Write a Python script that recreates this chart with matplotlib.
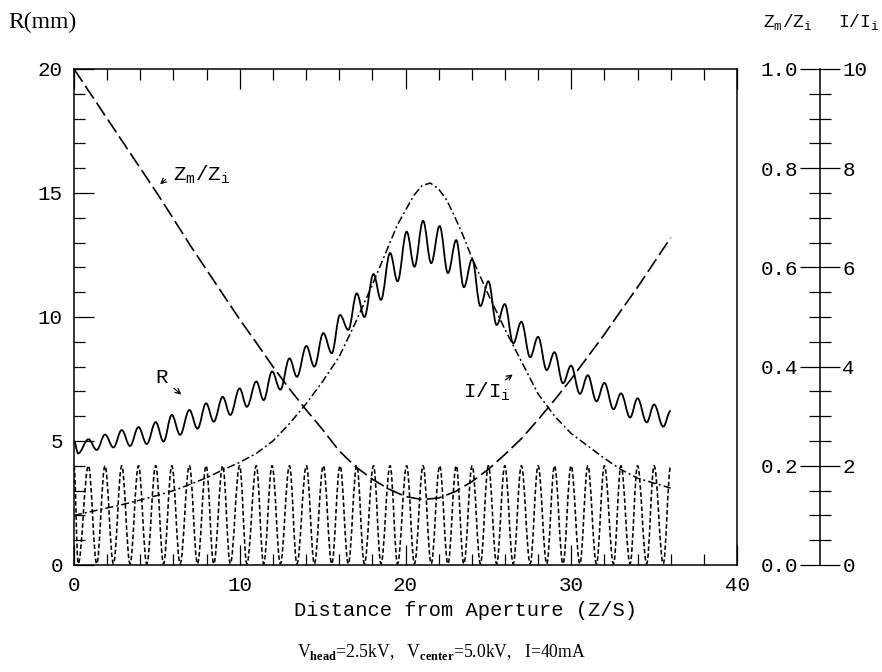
import numpy as np
import matplotlib.pyplot as plt
from matplotlib.path import Path
from matplotlib.patches import PathPatch

plt.rcParams['font.family'] = ['Liberation Mono', 'DejaVu Sans Mono']
plt.rcParams['mathtext.fontset'] = 'custom'
plt.rcParams['mathtext.rm'] = 'Liberation Mono'
plt.rcParams['mathtext.bf'] = 'Liberation Serif:bold'
plt.rcParams['lines.scale_dashes'] = False

# --- data ---
# Zm/Zi (dashed, right scale 0..1)
zm_z = [0, 1, 2, 3, 4, 5, 6, 7, 8, 9, 10, 11, 12, 13, 14, 15, 16, 17, 18,
        19, 20, 21, 22, 23, 24, 25, 26, 27, 28, 29, 30, 31, 32, 33, 34, 35, 36]
zm_ratio = [1.0, 0.95, 0.9, 0.85, 0.8, 0.75, 0.698, 0.645, 0.595, 0.545, 0.495,
            0.448, 0.4, 0.355, 0.313, 0.273, 0.23, 0.198, 0.173, 0.153, 0.138,
            0.132, 0.135, 0.148, 0.168, 0.193, 0.223, 0.255, 0.293, 0.333,
            0.375, 0.42, 0.465, 0.513, 0.56, 0.61, 0.66]

# I/Ii (dash-dot, right scale 0..10)
ii_z = [0, 1, 2, 3, 4, 5, 6, 7, 8, 9, 10, 11, 12, 13, 14, 15, 16, 17, 18, 19,
        19.5, 20, 20.5, 21, 21.5, 22, 22.5, 23, 23.5, 24, 25, 26, 27, 28, 29,
        30, 31, 32, 33, 34, 35, 36]
ii_ratio = [1.0, 1.075, 1.15, 1.225, 1.31, 1.4, 1.5, 1.625, 1.76, 1.92, 2.07,
            2.25, 2.5, 2.85, 3.25, 3.7, 4.2, 4.9, 5.65, 6.45, 6.85, 7.15, 7.45,
            7.65, 7.7, 7.58, 7.35, 7.0, 6.62, 6.2, 5.45, 4.75, 4.1, 3.45, 3.0,
            2.65, 2.4, 2.15, 1.925, 1.75, 1.65, 1.55]

# oscillating curves: positions of maxima and minima
z_peak = [0.0, 0.87, 1.87, 2.88, 3.89, 4.93, 5.9, 6.96, 7.97, 8.97, 9.99, 11.0,
          11.95, 13.0, 14.02, 15.04, 16.05, 17.06, 18.07, 19.07, 20.07, 21.06,
          22.06, 23.06, 24.02, 25.0, 25.99, 26.99, 28.0, 28.99, 29.99, 31.0,
          32.0, 33.0, 34.0, 35.0, 36.0]
z_trough = [0.25, 1.37, 2.38, 3.38, 4.39, 5.4, 6.4, 7.45, 8.43, 9.43, 10.43,
            11.44, 12.45, 13.45, 14.5, 15.55, 16.55, 17.52, 18.52, 19.52, 20.54,
            21.55, 22.56, 23.52, 24.52, 25.5, 26.5, 27.52, 28.52, 29.5, 30.52,
            31.52, 32.55, 33.55, 34.55, 35.55]

# R (solid)
r_peak = [5.0, 5.07, 5.26, 5.44, 5.56, 5.76, 6.05, 6.25, 6.52, 6.78, 7.12, 7.4,
          7.8, 8.33, 8.83, 9.35, 10.08, 10.95, 11.73, 12.58, 13.44, 13.88,
          13.67, 13.1, 12.33, 11.44, 10.52, 9.81, 9.2, 8.58, 8.04, 7.65, 7.34,
          6.92, 6.72, 6.47, 6.22]
r_trough = [4.5, 4.64, 4.74, 4.8, 4.88, 4.98, 5.25, 5.5, 5.78, 6.05, 6.38, 6.65,
            7.07, 7.59, 8.0, 8.54, 9.48, 10.0, 10.69, 11.44, 12.03, 12.17, 11.77,
            11.2, 10.44, 9.68, 8.94, 8.38, 7.86, 7.33, 6.9, 6.6, 6.28, 5.95, 5.75,
            5.58]

# short dashed oscillation at the bottom
d_peak = [4.0, 4.0, 4.0, 4.0, 4.0, 4.0, 4.0, 4.0, 4.0, 4.0, 4.0, 4.0, 4.0,
          4.0, 4.0, 4.0, 4.0, 4.0, 4.0, 4.0, 4.0, 4.0, 4.0, 4.0, 4.0, 4.0,
          4.0, 4.0, 4.0, 4.0, 4.0, 4.0, 4.0, 4.0, 4.0, 4.0, 4.0]
d_trough = [0.05, 0.05, 0.05, 0.05, 0.05, 0.05, 0.05, 0.05, 0.05, 0.05, 0.05,
            0.05, 0.05, 0.05, 0.05, 0.05, 0.05, 0.05, 0.05, 0.05, 0.05, 0.05,
            0.05, 0.05, 0.05, 0.05, 0.05, 0.05, 0.05, 0.05, 0.05, 0.05, 0.05,
            0.05, 0.05, 0.05]

zm_ticks = [0.0, 0.2, 0.4, 0.6, 0.8, 1.0]
ii_ticks = [0, 2, 4, 6, 8, 10]


def wave_path(zp, vp, zt, vt):
    # smooth curve through the extrema, flat at each max / min
    ez, ev = [], []
    for i in range(len(zt)):
        ez += [zp[i], zt[i]]
        ev += [vp[i], vt[i]]
    ez.append(zp[-1])
    ev.append(vp[-1])
    verts = [(ez[0], ev[0])]
    codes = [Path.MOVETO]
    for i in range(1, len(ez)):
        d = ez[i] - ez[i - 1]
        verts += [(ez[i - 1] + 0.37 * d, ev[i - 1]), (ez[i] - 0.37 * d, ev[i]), (ez[i], ev[i])]
        codes += [Path.CURVE4] * 3
    return Path(verts, codes)


W, H = 882, 672
fig = plt.figure(figsize=(W / 100, H / 100), dpi=100)
ax = fig.add_axes([74 / W, 1 - 565 / H, 663 / W, 496 / H])
ax.set_xlim(0, 40)
ax.set_ylim(0, 20)
ax.set_xticks([0, 10, 20, 30, 40])
ax.set_xticks(np.arange(0, 41, 2), minor=True)
ax.set_yticks([0, 5, 10, 15, 20])
ax.set_yticks(np.arange(0, 21, 1), minor=True)
ax.tick_params(which='both', direction='in', top=True, right=True, width=0.9,
               labelsize=15, pad=8)
ax.tick_params(which='major', length=14.5)
ax.tick_params(which='minor', length=8)
for s in ax.spines.values():
    s.set_linewidth(1.1)

ax.add_patch(PathPatch(wave_path(z_peak, r_peak, z_trough, r_trough),
                       fill=False, lw=1.3, color='black'))
ax.add_patch(PathPatch(wave_path(z_peak, d_peak, z_trough, d_trough),
                       fill=False, lw=1.15, color='black', linestyle=(0, (3.3, 1.8))))

ax_zm = ax.twinx()
ax_zm.set_ylim(0, 1)
ax_zm.axis('off')
ax_zm.plot(zm_z, zm_ratio, color='black', lw=1.2, linestyle=(0, (11, 3.6)))

ax_ii = ax.twinx()
ax_ii.set_ylim(0, 10)
ax_ii.axis('off')
ax_ii.plot(ii_z, ii_ratio, color='black', lw=1.1, linestyle=(0, (5.8, 2.2, 1.4, 2.2)))

# annotations
arrow = dict(arrowstyle='->,head_length=0.35,head_width=0.18', lw=0.9)
ax.text(6.0, 15.75, r'Z$_\mathregular{m}$/Z$_\mathregular{i}$', fontsize=15, va='center')
ax.annotate('', xy=(5.07, 15.28), xytext=(5.65, 15.62), arrowprops=arrow)
ax.text(5.3, 7.55, 'R', fontsize=15, ha='center', va='center')
ax.annotate('', xy=(6.6, 6.8), xytext=(5.9, 7.2), arrowprops=arrow)
ax.text(24.9, 7.0, r'I/I$_\mathregular{i}$', fontsize=15, ha='center', va='center')
ax.annotate('', xy=(26.6, 7.75), xytext=(25.9, 7.4), arrowprops=arrow)

# separate scale on the right
axr = fig.add_axes([820 / W, 1 - 565 / H, 1e-4, 496 / H])
axr.set_ylim(0, 1)
axr.set_xticks([])
for s in ['top', 'bottom', 'right']:
    axr.spines[s].set_visible(False)
axr.spines['left'].set_linewidth(1.1)
axr.set_yticks(zm_ticks)
axr.set_yticklabels(['%.1f' % v for v in zm_ticks])
axr.set_yticks(np.arange(0, 1.001, 0.05), minor=True)
axr.tick_params(axis='y', which='major', direction='inout', length=29, width=0.9,
                pad=1.5, labelsize=15)
axr.tick_params(axis='y', which='minor', direction='inout', length=16, width=0.9)
axr.patch.set_visible(False)

axr2 = axr.twinx()
axr2.set_ylim(0, 10)
for s in axr2.spines.values():
    s.set_visible(False)
axr2.set_yticks(ii_ticks)
axr2.set_yticklabels([str(v) for v in ii_ticks])
axr2.tick_params(axis='y', length=0, pad=16, labelsize=15)
axr2.patch.set_visible(False)

fig.text(8 / W, 1 - 22 / H, 'R(mm)', fontsize=17, va='center', ha='left',
         family='Liberation Serif')
fig.text(788 / W, 1 - 22 / H, r'Z$_\mathregular{m}$/Z$_\mathregular{i}$', fontsize=13,
         va='center', ha='center')
fig.text(880 / W, 1 - 22 / H, r'I/I$_\mathregular{i}$', fontsize=13, va='center', ha='right')
fig.text(465 / W, 1 - 610 / H, 'Distance from Aperture (Z/S)', fontsize=14.7,
         va='center', ha='center')
fig.text(442 / W, 1 - 652 / H,
         r'V$_{\bf head}$=2.5kV,   V$_{\bf center}$=5.0kV,   I=40mA',
         fontsize=12.7, va='center', ha='center', family='Liberation Serif')

fig.savefig('out.png', dpi=100)
